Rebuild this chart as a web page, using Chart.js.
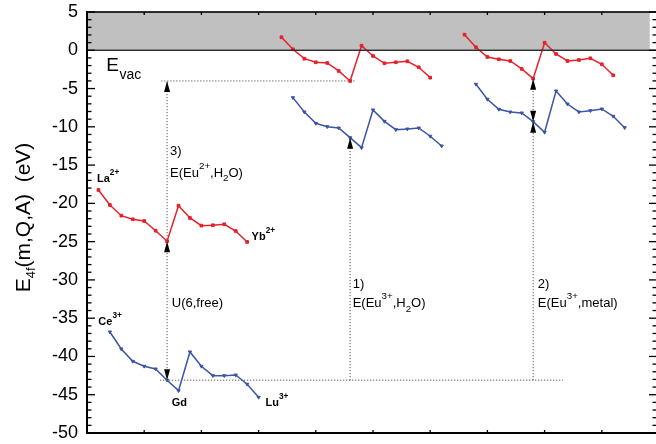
<!DOCTYPE html>
<html>
<head>
<meta charset="utf-8">
<script src="https://cdn.jsdelivr.net/npm/chart.js@4.4.1/dist/chart.umd.min.js"></script>
<style>
  html, body { margin: 0; padding: 0; overflow: hidden; background: #fff; }
  #wrap { width: 656px; height: 444px; overflow: hidden; }
</style>
</head>
<body>
<div id="wrap"><canvas id="chart4f" width="664" height="444"></canvas></div>
<script>
const FONT = '"Liberation Sans", Arial, Helvetica, sans-serif';
const RED = '#e8202a';
const BLUE = '#3b55a6';

// lanthanide index of the first point in each panel (divalent / trivalent)
const start2 = [1, 17, 33];
const start3 = [2, 18, 34];

// 4f ground state energies, La2+..Yb2+ and Ce3+..Lu3+ (eV)
const red1  = [-18.25, -20.21, -21.61, -22.08, -22.30, -23.57, -24.95, -20.30, -21.91, -22.91, -22.86, -22.73, -23.61, -25.04];
const blue1 = [-36.80, -39.02, -40.63, -41.28, -41.63, -43.10, -44.47, -39.41, -41.28, -42.51, -42.51, -42.42, -43.63, -45.33];
const red2  = [1.70, 0.13, -1.10, -1.57, -1.66, -2.70, -4.01, 0.60, -0.74, -1.70, -1.57, -1.44, -2.22, -3.58];
const blue2 = [-6.19, -8.06, -9.54, -9.98, -10.15, -11.42, -12.72, -7.80, -9.28, -10.37, -10.28, -10.15, -11.23, -12.50];
const red3  = [2.04, 0.39, -0.88, -1.18, -1.40, -2.44, -3.71, 0.99, -0.48, -1.40, -1.27, -1.05, -1.83, -3.27];
const blue3 = [-4.44, -6.40, -7.71, -8.06, -8.19, -9.33, -10.71, -5.32, -7.02, -8.06, -7.89, -7.67, -8.62, -10.11];

const yRange = [-50, 5];
const xRange = [0, 50];
const vacuumBand = [0, 5];
const bandEnd = 49.2;

const pts = (vals, s) => vals.map((v, i) => ({ x: s + i, y: v }));

// position of Eu in the divalent and trivalent series
const EU2 = 6;
const EU3 = 5;
const euX = start2.map(s => s + EU2);

// dotted guides: [x0, y0, x1, y1]
const guides = [
  [6.4, blue1[EU3], 41.6, blue1[EU3]],
  [6.5, red2[EU2], 23.5, red2[EU2]],
  [euX[0], blue1[EU3], euX[0], red2[EU2]],
  [euX[1], blue1[EU3], euX[1], blue2[EU3]],
  [euX[2], blue1[EU3], euX[2], red3[EU2]]
];

// arrowheads: [x, y, direction] (-1 points up, 1 points down)
const heads = [
  [euX[0], blue1[EU3], 1],
  [euX[0], red1[EU2], -1],
  [euX[0], red2[EU2], -1],
  [euX[1], blue2[EU3], -1],
  [euX[2], blue3[EU3], -1],
  [euX[2], blue3[EU3], 1],
  [euX[2], red3[EU2], -1]
];

// text: x, baseline y (data units), size, weight, parts
const notes = [
  [7.26, -13.7, 13, 'normal', [['3)']]],
  [7.26, -16.5, 13, 'normal', [['E(Eu'], ['2+', 'sup'], [',H'], ['2', 'sub'], ['O)']]],
  [7.41, -33.5, 13, 'normal', [['U(6,free)']]],
  [23.24, -31.0, 13, 'normal', [['1)']]],
  [23.22, -33.6, 13, 'normal', [['E(Eu'], ['3+', 'sup'], [',H'], ['2', 'sub'], ['O)']]],
  [39.41, -31.0, 13, 'normal', [['2)']]],
  [39.41, -33.5, 13, 'normal', [['E(Eu'], ['3+', 'sup'], [',metal)']]],
  [0.87, -17.2, 11, 'bold', [['La'], ['2+', 'sup']]],
  [14.39, -24.8, 11, 'bold', [['Yb'], ['2+', 'sup']]],
  [0.99, -35.9, 11, 'bold', [['Ce'], ['3+', 'sup']]],
  [7.41, -46.5, 11, 'bold', [['Gd']]],
  [15.61, -46.5, 11, 'bold', [['Lu'], ['3+', 'sup']]]
];

function drawRich(ctx, x, y, parts, size, weight) {
  let cx = x;
  parts.forEach(([t, kind]) => {
    const s = kind ? size * 0.75 : size;
    const dy = kind === 'sup' ? -size * 0.62 : kind === 'sub' ? size * 0.36 : 0;
    ctx.font = `${weight} ${s}px ${FONT}`;
    ctx.fillText(t, cx, y + dy);
    cx += ctx.measureText(t).width;
  });
}

// frame, vacuum line and inward ticks
const frame = {
  id: 'frame',
  afterDraw(chart) {
    const { ctx, chartArea: a, scales: { x, y } } = chart;
    ctx.save();

    const y0 = y.getPixelForValue(0);
    ctx.fillStyle = '#2a2a2a';
    ctx.fillRect(a.left, y0 - 0.7, a.right - a.left, 1.4);

    ctx.fillStyle = '#000';
    ctx.fillRect(a.left - 1, a.top - 0.8, a.right - a.left + 1, 1.6);
    ctx.fillRect(a.left - 1, a.bottom - 1, a.right - a.left + 1, 2);
    ctx.fillRect(a.left - 1, a.top - 0.8, 2, a.bottom - a.top + 1.8);
    ctx.fillRect(a.right - 1, a.top - 0.8, 2, a.bottom - a.top + 1.8);

    // minor every 1 eV on the energy axis
    for (let v = yRange[0]; v <= yRange[1]; v++) {
      const py = y.getPixelForValue(v);
      const major = v % 5 === 0;
      const l = major ? 8 : 4.5;
      const r = major ? 10 : 6.5;
      ctx.fillRect(a.left, py - 0.65, l, 1.3);
      ctx.fillRect(a.right - r, py - 0.65, r, 1.3);
    }
    for (let v = xRange[0] + 5; v < xRange[1]; v += 5) {
      const px = x.getPixelForValue(v);
      ctx.fillRect(px - 0.65, a.top, 1.3, 3);
      ctx.fillRect(px - 0.65, a.bottom - 3, 1.3, 3);
    }
    ctx.restore();
  }
};

const decorations = {
  id: 'decorations',
  afterDraw(chart) {
    const { ctx, chartArea: a, scales: { x, y } } = chart;
    ctx.save();

    // arrowheads
    ctx.fillStyle = '#000';
    heads.forEach(([hx, hy, dir]) => {
      const px = x.getPixelForValue(hx);
      const py = y.getPixelForValue(hy);
      ctx.beginPath();
      ctx.moveTo(px, py);
      ctx.lineTo(px - 3, py - dir * 11);
      ctx.lineTo(px + 3, py - dir * 11);
      ctx.closePath();
      ctx.fill();
    });

    // annotations
    ctx.textAlign = 'left';
    ctx.textBaseline = 'alphabetic';
    notes.forEach(([nx, ny, size, weight, parts]) => {
      drawRich(ctx, x.getPixelForValue(nx), y.getPixelForValue(ny), parts, size, weight);
    });

    // vacuum level label
    const ex = x.getPixelForValue(1.69), ey = y.getPixelForValue(-2.7);
    ctx.font = `19px ${FONT}`;
    ctx.fillText('E', ex, ey);
    const ew = ctx.measureText('E').width;
    ctx.font = `14px ${FONT}`;
    ctx.fillText('vac', ex + ew + 0.5, ey + 7.7);

    // y axis title with subscript
    ctx.translate(30, (a.top + a.bottom) / 2 - 5);
    ctx.rotate(-Math.PI / 2);
    const title = [['E', 21, 0], ['4f', 13, 5], ['(m,Q,A)  (eV)', 21, 0]];
    let w = 0;
    title.forEach(([t, s]) => { ctx.font = `${s}px ${FONT}`; w += ctx.measureText(t).width; });
    let cx = -w / 2;
    title.forEach(([t, s, dy]) => {
      ctx.font = `${s}px ${FONT}`;
      ctx.fillText(t, cx, dy);
      cx += ctx.measureText(t).width;
    });
    ctx.restore();
  }
};

const seriesStyle = (color, style) => ({
  borderColor: color, backgroundColor: color, borderWidth: 1.5,
  pointRadius: 1.9, pointStyle: style, pointRotation: style === 'triangle' ? 180 : 0,
  pointBorderWidth: 1, tension: 0, fill: false, order: 0
});

// higher order is drawn first: band, then guides, then the curves
const datasets = [
  {
    data: [{ x: xRange[0], y: vacuumBand[1] }, { x: bandEnd, y: vacuumBand[1] }],
    fill: { value: vacuumBand[0] }, backgroundColor: '#c0c0c0',
    borderWidth: 0, pointRadius: 0, order: 3
  },
  ...guides.map(([x0, y0, x1, y1]) => ({
    data: [{ x: x0, y: y0 }, { x: x1, y: y1 }],
    borderColor: '#333', borderWidth: 1, borderDash: [1, 2], pointRadius: 0, fill: false, order: 2
  })),
  { data: pts(red1, start2[0]), ...seriesStyle(RED, 'rect') },
  { data: pts(red2, start2[1]), ...seriesStyle(RED, 'rect') },
  { data: pts(red3, start2[2]), ...seriesStyle(RED, 'rect') },
  { data: pts(blue1, start3[0]), ...seriesStyle(BLUE, 'triangle') },
  { data: pts(blue2, start3[1]), ...seriesStyle(BLUE, 'triangle') },
  { data: pts(blue3, start3[2]), ...seriesStyle(BLUE, 'triangle') }
];

new Chart(document.getElementById('chart4f'), {
  type: 'line',
  data: { datasets },
  options: {
    responsive: false,
    animation: false,
    layout: { padding: { left: 0, right: 4, top: 12, bottom: 11 } },
    plugins: { legend: { display: false }, tooltip: { enabled: false } },
    scales: {
      x: { type: 'linear', min: xRange[0], max: xRange[1], display: false },
      y: {
        min: yRange[0], max: yRange[1],
        afterFit: s => { s.width = 87; s.paddingTop = 0; s.paddingBottom = 0; },
        grid: { display: false, drawTicks: false },
        border: { display: false },
        ticks: { stepSize: 5, padding: 9, color: '#000', font: { family: FONT, size: 18 } }
      }
    }
  },
  plugins: [frame, decorations]
});
</script>
</body>
</html>
